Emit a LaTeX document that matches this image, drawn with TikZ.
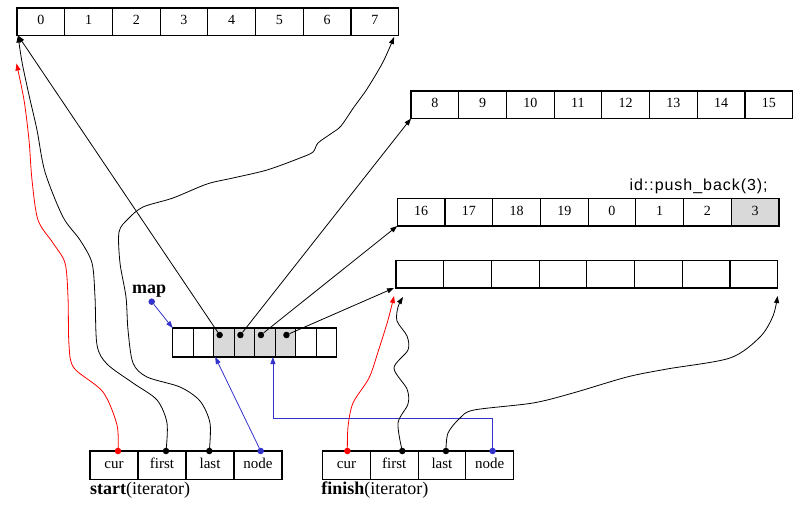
\documentclass[tikz,border=0pt]{standalone}
\usepackage{fontspec}
\setmainfont{Liberation Serif}
\newfontfamily\codefont[LetterSpace=6]{Liberation Sans}
\usetikzlibrary{positioning, arrows.meta}
\definecolor{PtrRed}{RGB}{255,0,0}
\definecolor{PtrBlue}{RGB}{51,51,204}
\tikzset{Cell/.style={%
    draw,%
    line width=1.2pt,%
    minimum width=47.7pt,%
    minimum height=27.5pt,%
    text height=9pt,%
    text depth=3pt,%
    inner sep=0pt,%
    outer sep=0pt,%
    font=\fontsize{14}{16}\selectfont,%
}}
\tikzset{MapCell/.style={%
    Cell,%
    minimum width=20.5pt,%
    minimum height=29pt,%
}}
\tikzset{IterCell/.style={%
    Cell,%
    minimum width=48pt,%
    minimum height=28.5pt,%
    font=\fontsize{15}{17}\selectfont,%
}}
\tikzset{Dot/.style={%
    circle,%
    fill,%
    inner sep=0pt,%
    minimum size=6.5pt,%
}}
\tikzset{Label/.style={%
    inner sep=0pt,%
    font=\fontsize{18}{20}\selectfont,%
}}
\tikzset{Pointer/.style={%
    -{Triangle[length=7pt,width=5pt]},%
    line width=0.8pt,%
}}
\tikzset{RedPointer/.style={Pointer, draw=PtrRed, -{Triangle[length=7pt,width=5pt,fill=PtrRed]}}}
\tikzset{BluePointer/.style={Pointer, draw=PtrBlue, -{Triangle[length=7pt,width=5pt,fill=PtrBlue]}}}

\begin{document}
\begin{tikzpicture}[x=1pt, y=-1pt]
    \useasboundingbox (0,0) rectangle (804,527);

    \node[Cell, anchor=north west] (a0) at (17,8) {0};
    \foreach \i [remember=\i as \j (initially 0)] in {1,...,7}
        \node[Cell, right=0pt of a\j] (a\i) {\i};

    \node[Cell, anchor=north west] (b0) at (411,91) {8};
    \foreach \i [remember=\i as \j (initially 0), evaluate=\i as \t using int(\i+8)] in {1,...,7}
        \node[Cell, right=0pt of b\j] (b\i) {\t};

    \node[Cell, anchor=north west] (c0) at (397.3,198.5) {16};
    \foreach \i/\t [remember=\i as \j (initially 0)] in {1/17,2/18,3/19,4/0,5/1,6/2}
        \node[Cell, right=0pt of c\j] (c\i) {\t};
    \node[Cell, fill=black!15, right=0pt of c6] (c7) {3};
    \node[inner sep=0pt, font=\codefont\fontsize{16}{18}\selectfont, above left=4pt and 11pt of c7.north east] (pushLabel) {id::push\_back(3);};

    \node[Cell, anchor=north west] (d0) at (396,260.5) {};
    \foreach \i [remember=\i as \j (initially 0)] in {1,...,7}
        \node[Cell, right=0pt of d\j] (d\i) {};

    \node[MapCell, anchor=north west] (m0) at (172.7,328) {};
    \foreach \i/\f [remember=\i as \j (initially 0)] in {1/white,2/black!15,3/black!15,4/black!15,5/black!15,6/white,7/white}
        \node[MapCell, fill=\f, right=0pt of m\j] (m\i) {};
    \node[Dot] (md2) at ([xshift=-4.3pt,yshift=-7pt]m2.north) {};
    \node[Dot] (md3) at ([xshift=-4pt,yshift=-7pt]m3.north) {};
    \node[Dot] (md4) at ([xshift=-4pt,yshift=-7pt]m4.north) {};
    \node[Dot] (md5) at ([xshift=1pt,yshift=-7pt]m5.north) {};
    \node[Dot, PtrBlue] (mapdot) at (151.7,301.7) {};
    \node[Label, above=1pt of mapdot, xshift=-2.5pt] (mapLabel) {\textbf{map}};

    \node[IterCell, anchor=north west] (s0) at (90,451) {cur};
    \node[IterCell, right=0pt of s0] (s1) {first};
    \node[IterCell, right=0pt of s1] (s2) {last};
    \node[IterCell, right=0pt of s2] (s3) {node};
    \node[Label, below right=2pt and 0pt of s0.south west] (startLabel) {\textbf{start}(iterator)};

    \node[IterCell, minimum width=47.7pt, anchor=north west] (f0) at (322.7,451) {cur};
    \node[IterCell, minimum width=47.7pt, right=0pt of f0] (f1) {first};
    \node[IterCell, minimum width=47.7pt, right=0pt of f1] (f2) {last};
    \node[IterCell, minimum width=47.7pt, right=0pt of f2] (f3) {node};
    \node[Label, below right=2pt and -1.5pt of f0.south west] (finishLabel) {\textbf{finish}(iterator)};

    \node[Dot, PtrRed] (scur) at ([xshift=4pt]s0.north) {};
    \node[Dot] (sfirst) at ([xshift=4pt]s1.north) {};
    \node[Dot] (slast) at ([xshift=-0.7pt]s2.north) {};
    \node[Dot, PtrBlue] (snode) at ([xshift=2.7pt]s3.north) {};
    \node[Dot, PtrRed] (fcur) at ([xshift=0.8pt]f0.north) {};
    \node[Dot] (ffirst) at ([xshift=8pt]f1.north) {};
    \node[Dot] (flast) at ([xshift=4pt]f2.north) {};
    \node[Dot, PtrBlue] (fnode) at ([xshift=3pt]f3.north) {};

    \coordinate (aTip) at ([xshift=-0.5pt,yshift=-28pt]a0.south west);
    \coordinate (aTipE) at ([xshift=-4.5pt,yshift=-1.5pt]a7.south east);
    \coordinate (dTipR) at ([xshift=-2pt,yshift=-8pt]d0.south west);
    \coordinate (dTipB) at ([xshift=7pt,yshift=-9pt]d0.south west);
    \coordinate (dTipE) at ([yshift=-8pt]d7.south east);
    \coordinate (bend) at ([xshift=-2.3pt,yshift=-61pt]m4.south east);

    \path (md2) edge[Pointer] ([xshift=1pt]a0.south west);
    \path (md3) edge[Pointer] (b0.south west);
    \path (md4) edge[Pointer] (c0.south west);
    \path (md5) edge[Pointer] ([xshift=-2pt]d0.south west);
    \path (mapdot) edge[BluePointer] (m0.north west);
    \path (snode) edge[BluePointer] ([xshift=1.5pt]m2.south west);
    \draw[BluePointer] (fnode) |- (bend) -- ([xshift=-2.3pt]m4.south east);

    \draw[RedPointer] plot[smooth] coordinates {(scur) (117,425) (103,392) (74,368) (69,345) (68,297) (65,263) (53,243) (38,220) (32,180) (29,140) (24,100) (aTip)};
    \draw[Pointer] plot[smooth] coordinates {(sfirst) (167,423) (157,400) (133,383) (107,364) (97,345) (95,297) (92,263) (80,240) (63,217) (45,172) (37,130) (29,95) (22,62) ([xshift=1pt]a0.south west)};
    \draw[Pointer] plot[smooth] coordinates {(slast) (210,423) (200,401) (180,387) (147,377) (133,363) (128,330) (126,297) (120,263) (119,232) (128,219) (143,207) (173,198) (207,184) (233,178) (267,170) (300,158) (313,152) (318,143) (332,133) (341,126) (354,107) (367,89) (383,62) (aTipE)};
    \draw[RedPointer] plot[smooth] coordinates {(fcur) (348,427) (353,403) (369,378) (378,352) (388,320) (dTipR)};
    \draw[Pointer] plot[smooth] coordinates {(ffirst) (398,423) (408,404) (407,389) (394,368) (408,350) (407,336) (397,321) (398,307) (dTipB)};
    \draw[Pointer] plot[smooth] coordinates {(flast) (448,433) (460,418) (474,410) (533,403) (573,393) (627,377) (667,369) (730,358) (760,337) (773,316) (dTipE)};
\end{tikzpicture}
\end{document}
